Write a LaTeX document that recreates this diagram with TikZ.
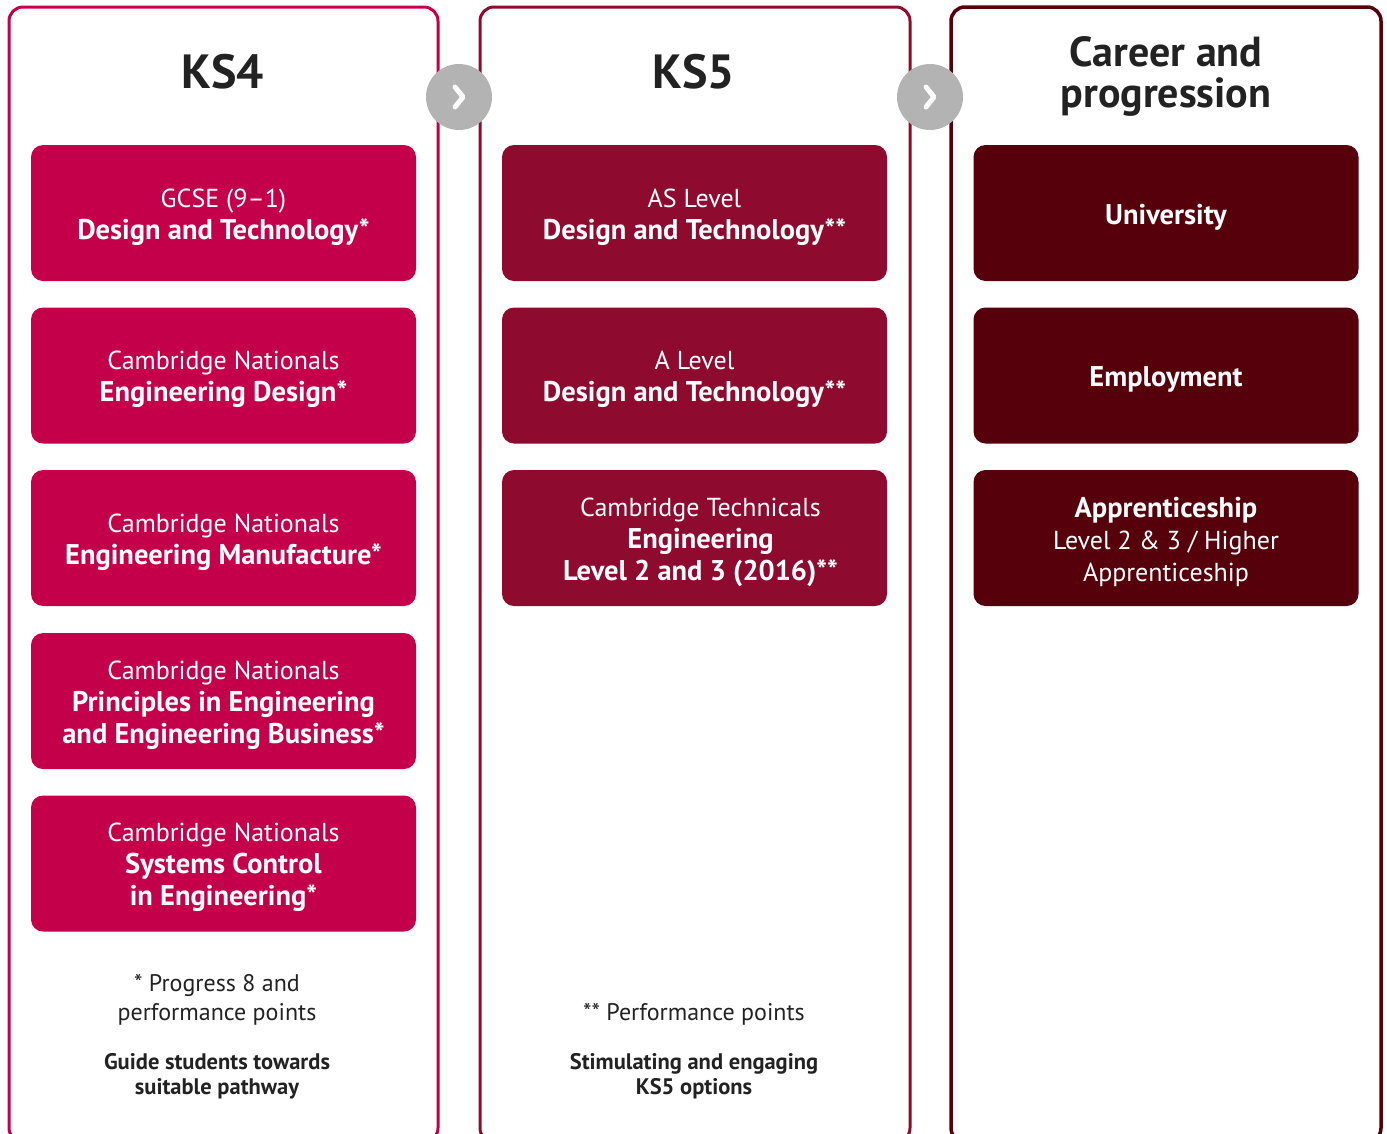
\documentclass[tikz,border=0pt]{standalone}
\usepackage{fontspec}
\setmainfont{PT Sans}
\usepackage{tikz}

\definecolor{ksfour}{HTML}{C4004B}
\definecolor{ksfive}{HTML}{8E0A2E}
\definecolor{career}{HTML}{55000B}
\definecolor{inkgray}{HTML}{222222}
\definecolor{stepgray}{HTML}{B3B3B3}

\newcommand{\hl}[1]{{\fontsize{28.5}{32}\selectfont\bfseries #1}}

\tikzset{
	colframe/.style = {line width = 3pt, rounded corners = 14pt},
	optbox/.style = {fill = #1, rounded corners = 12pt,
		minimum width = 385pt, minimum height = 136pt, inner sep = 0pt},
	boxtext/.style = {text = white, align = center, inner sep = 0pt, yshift = -4pt,
		font = \fontsize{26}{32}\selectfont},
	heading/.style = {text = inkgray, align = center, inner sep = 0pt,
		font = \fontsize{48}{42}\selectfont\bfseries},
	note/.style = {text = inkgray, align = center, inner sep = 0pt,
		font = \fontsize{24}{29}\selectfont},
	motto/.style = {text = inkgray, align = center, inner sep = 0pt,
		font = \fontsize{22.5}{25}\selectfont\bfseries},
	nextstep/.style = {circle, fill = stepgray, minimum size = 66pt, inner sep = 0pt}
}

\begin{document}
\begin{tikzpicture}[x = 1pt, y = -1pt]
	\useasboundingbox (0,0) rectangle (1387,1133);
	% columns
	\draw[colframe, ksfour] (9,7) rectangle (438,1142);
	\draw[colframe, ksfive] (480,7) rectangle (910,1142);
	\draw[colframe, career, line width = 3.5pt] (951,7) rectangle (1381,1142);

	% headings
	\node[heading] (ksfourhead) at (223,72) {KS4};
	\node[heading] (ksfivehead) at (694,72) {KS5};
	\node[heading, font = \fontsize{42}{41}\selectfont\bfseries] (careerhead) at (1166,76) {Career and\\progression};

	% KS4 options
	\node[optbox = ksfour] (gcse) at (223.5,213) {};
	\node[boxtext] (gcsetxt) at (gcse) {GCSE (9--1)\\\hl{Design and Technology*}};
	\node[optbox = ksfour] (engdesign) at (223.5,375.5) {};
	\node[boxtext] (engdesigntxt) at (engdesign) {Cambridge Nationals\\\hl{Engineering Design*}};
	\node[optbox = ksfour] (engmanu) at (223.5,538) {};
	\node[boxtext] (engmanutxt) at (engmanu) {Cambridge Nationals\\\hl{Engineering Manufacture*}};
	\node[optbox = ksfour] (engprinc) at (223.5,701) {};
	\node[boxtext] (engprinctxt) at (engprinc) {Cambridge Nationals\\\hl{Principles in Engineering}\\\hl{and Engineering Business*}};
	\node[optbox = ksfour] (engsys) at (223.5,863.5) {};
	\node[boxtext] (engsystxt) at (engsys) {Cambridge Nationals\\\hl{Systems Control}\\\hl{in Engineering*}};

	% KS5 options
	\node[optbox = ksfive] (aslevel) at (694.5,213) {};
	\node[boxtext] (asleveltxt) at (aslevel) {AS Level\\\hl{Design and Technology**}};
	\node[optbox = ksfive] (alevel) at (694.5,375.5) {};
	\node[boxtext] (aleveltxt) at (alevel) {A Level\\\hl{Design and Technology**}};
	\node[optbox = ksfive] (camtech) at (694.5,538) {};
	\node[boxtext, xshift = 6pt] (camtechtxt) at (camtech) {Cambridge Technicals\\\hl{Engineering}\\\hl{Level 2 and 3 (2016)**}};

	% career options
	\node[optbox = career] (uni) at (1166,213) {};
	\node[boxtext] (unitxt) at (uni) {\hl{University}};
	\node[optbox = career] (employ) at (1166,375.5) {};
	\node[boxtext] (employtxt) at (employ) {\hl{Employment}};
	\node[optbox = career] (apprent) at (1166,538) {};
	\node[boxtext] (apprenttxt) at (apprent) {\hl{Apprenticeship}\\Level 2 \& 3 / Higher\\Apprenticeship};

	% notes
	\node[note] (ksfournote) at (217,1000) {* Progress 8 and\\performance points};
	\node[motto] (ksfourmotto) at (217,1076) {Guide students towards\\suitable pathway};
	\node[note] (ksfivenote) at (694,1014) {** Performance points};
	\node[motto] (ksfivemotto) at (694,1076) {Stimulating and engaging\\KS5 options};

	% arrows between columns
	\node[nextstep] (stepone) at (459,97) {};
	\node[nextstep] (steptwo) at (930,97) {};
	\draw[white, line width = 5pt, line cap = round, line join = round]
		([shift = {(-4,-10)}]stepone.center) -- ([shift = {(4,0)}]stepone.center) -- ([shift = {(-4,10)}]stepone.center);
	\draw[white, line width = 5pt, line cap = round, line join = round]
		([shift = {(-4,-10)}]steptwo.center) -- ([shift = {(4,0)}]steptwo.center) -- ([shift = {(-4,10)}]steptwo.center);
\end{tikzpicture}
\end{document}
